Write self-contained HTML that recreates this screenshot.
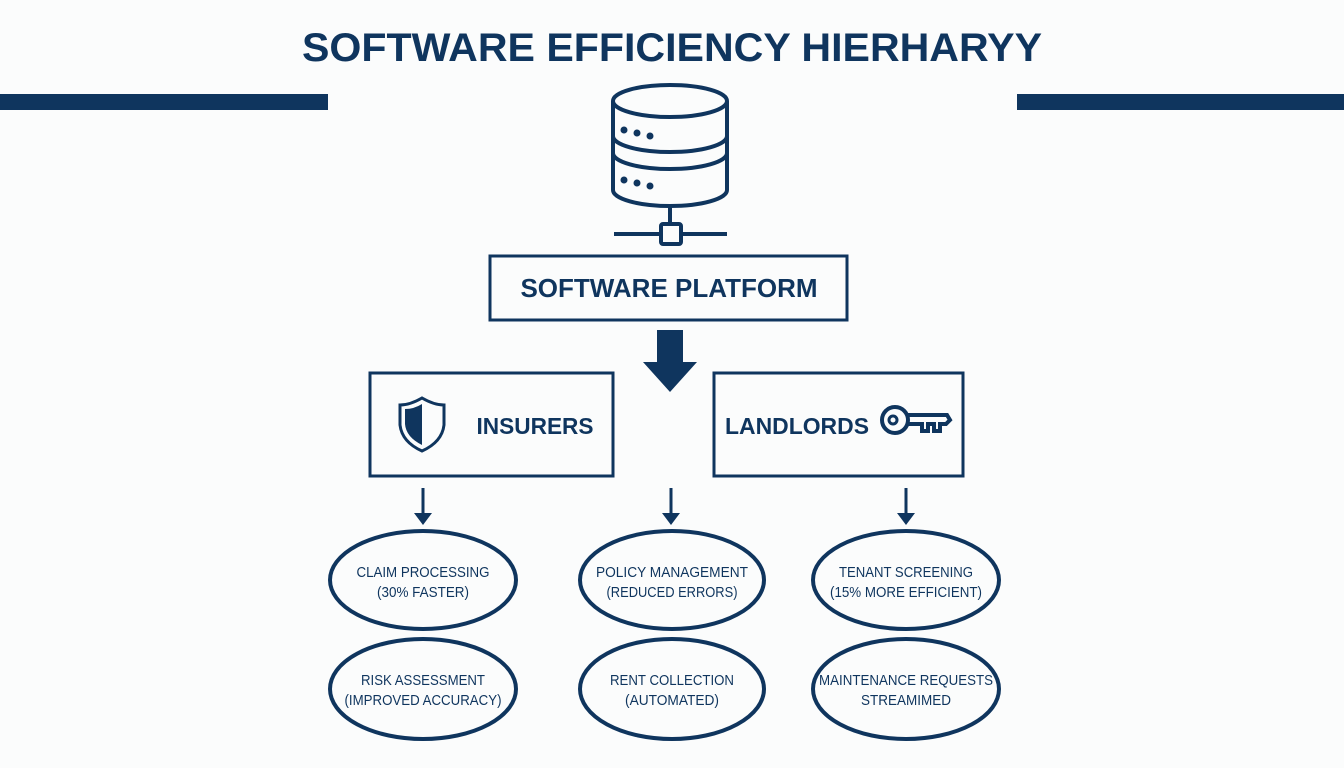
<!DOCTYPE html>
<html><head><meta charset="utf-8"><style>
html,body{margin:0;padding:0;background:#fbfcfc;}
svg{display:block;}
text{font-family:"Liberation Sans",sans-serif;fill:#0f355e;}
</style></head><body>
<svg width="1344" height="768" viewBox="0 0 1344 768" xmlns="http://www.w3.org/2000/svg">
<rect width="1344" height="768" fill="#fbfcfc"/>
<text x="672" y="61" text-anchor="middle" font-size="40" font-weight="bold" textLength="740" lengthAdjust="spacingAndGlyphs">SOFTWARE EFFICIENCY HIERHARYY</text>
<rect x="0" y="94" width="328" height="16" fill="#0f355e"/>
<rect x="1017" y="94" width="327" height="16" fill="#0f355e"/>
<g fill="none" stroke="#0f355e" stroke-width="4">
<ellipse cx="670" cy="101" rx="57" ry="16"/>
<path d="M613 101 V136 A57 16 0 0 0 727 136 V101"/>
<path d="M613 136 V153 A57 16 0 0 0 727 153 V136"/>
<path d="M613 153 V190 A57 16 0 0 0 727 190 V153"/>
<line x1="670" y1="206" x2="670" y2="225"/>
<line x1="614" y1="234" x2="661" y2="234"/>
<line x1="681" y1="234" x2="727" y2="234"/>
<rect x="661" y="224" width="20" height="20" rx="2"/>
</g>
<g fill="#0f355e">
<circle cx="624" cy="130" r="3.5"/><circle cx="637" cy="133" r="3.5"/><circle cx="650" cy="136" r="3.5"/>
<circle cx="624" cy="180" r="3.5"/><circle cx="637" cy="183" r="3.5"/><circle cx="650" cy="186" r="3.5"/>
</g>
<rect x="490" y="256" width="357" height="64" fill="none" stroke="#0f355e" stroke-width="3"/>
<text x="669" y="297" text-anchor="middle" font-size="26" font-weight="bold">SOFTWARE PLATFORM</text>
<path d="M657 330 H683 V362 H697 L670 392 L643 362 H657 Z" fill="#0f355e"/>
<rect x="370" y="373" width="243" height="103" fill="none" stroke="#0f355e" stroke-width="3"/>
<rect x="714" y="373" width="249" height="103" fill="none" stroke="#0f355e" stroke-width="3"/>
<path d="M422 398 Q410 405 400 405 V425 Q402 442 422 451 Q442 442 444 425 V405 Q434 405 422 398 Z" fill="none" stroke="#0f355e" stroke-width="3"/>
<path d="M422 404 V445 Q406 437 405 424 V409 Q414 409 422 404 Z" fill="#0f355e"/>
<text x="535" y="434" text-anchor="middle" font-size="23" font-weight="bold" textLength="117" lengthAdjust="spacingAndGlyphs">INSURERS</text>
<text x="797" y="434" text-anchor="middle" font-size="23" font-weight="bold" textLength="144" lengthAdjust="spacingAndGlyphs">LANDLORDS</text>
<g fill="none" stroke="#0f355e" stroke-width="4">
<circle cx="895" cy="420" r="13"/>
<circle cx="893" cy="420" r="4" stroke-width="3"/>
<path d="M908 415 H947 L950 420 L946 424 H940 V431 H934 V424 H928 V431 H922 V424 H908"/>
</g>
<g stroke="#0f355e" stroke-width="3" fill="#0f355e">
<line x1="423" y1="488" x2="423" y2="514"/><path d="M414 513 H432 L423 525 Z" stroke="none"/>
<line x1="671" y1="488" x2="671" y2="514"/><path d="M662 513 H680 L671 525 Z" stroke="none"/>
<line x1="906" y1="488" x2="906" y2="514"/><path d="M897 513 H915 L906 525 Z" stroke="none"/>
</g>
<g fill="none" stroke="#0f355e" stroke-width="4">
<ellipse cx="423" cy="580" rx="93" ry="49"/>
<ellipse cx="672" cy="580" rx="92" ry="49"/>
<ellipse cx="906" cy="580" rx="93" ry="49"/>
<ellipse cx="423" cy="689" rx="93" ry="50"/>
<ellipse cx="672" cy="689" rx="92" ry="50"/>
<ellipse cx="906" cy="689" rx="93" ry="50"/>
</g>
<g font-size="15" text-anchor="middle">
<text x="423" y="577" textLength="133" lengthAdjust="spacingAndGlyphs">CLAIM PROCESSING</text>
<text x="423" y="597" textLength="92" lengthAdjust="spacingAndGlyphs">(30% FASTER)</text>
<text x="672" y="577" textLength="152" lengthAdjust="spacingAndGlyphs">POLICY MANAGEMENT</text>
<text x="672" y="597" textLength="131" lengthAdjust="spacingAndGlyphs">(REDUCED ERRORS)</text>
<text x="906" y="577" textLength="134" lengthAdjust="spacingAndGlyphs">TENANT SCREENING</text>
<text x="906" y="597" textLength="152" lengthAdjust="spacingAndGlyphs">(15% MORE EFFICIENT)</text>
<text x="423" y="685" textLength="124" lengthAdjust="spacingAndGlyphs">RISK ASSESSMENT</text>
<text x="423" y="705" textLength="157" lengthAdjust="spacingAndGlyphs">(IMPROVED ACCURACY)</text>
<text x="672" y="685" textLength="124" lengthAdjust="spacingAndGlyphs">RENT COLLECTION</text>
<text x="672" y="705" textLength="94" lengthAdjust="spacingAndGlyphs">(AUTOMATED)</text>
<text x="906" y="685" textLength="174" lengthAdjust="spacingAndGlyphs">MAINTENANCE REQUESTS</text>
<text x="906" y="705" textLength="90" lengthAdjust="spacingAndGlyphs">STREAMIMED</text>
</g>
</svg>
</body></html>
